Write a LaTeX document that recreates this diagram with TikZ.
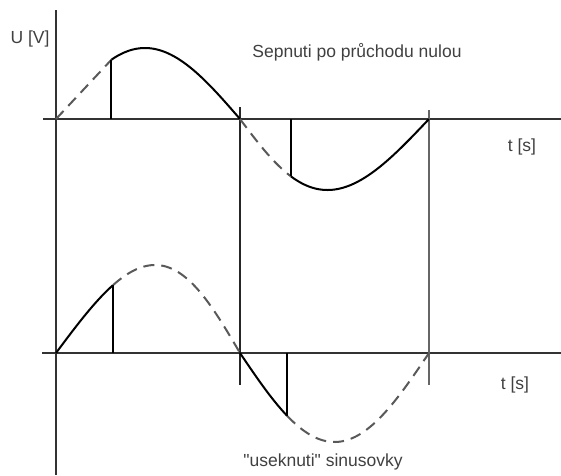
\documentclass[tikz,border=0pt]{standalone}
\usepackage{fontspec}
\setmainfont{Liberation Sans}
\newfontfamily\lblfont{Liberation Sans}
\begin{document}
\begin{tikzpicture}[x=1pt,y=-1pt,
  axisline/.style={line width=2.2pt,color=black!80},
  guide/.style={line width=1.8pt,color=black!85},
  wave/.style={line width=2pt,color=black},
  dwave/.style={line width=2pt,color=black!65,dash pattern=on 11pt off 7pt},
  lbl/.style={font=\lblfont\fontsize{17.5}{20}\selectfont,text=black!75,inner sep=0pt}]
\useasboundingbox (0,0) rectangle (561,475);
% axes
\draw[axisline] (56,10) -- (56,475);
\draw[axisline] (43,119) -- (561,119);
\draw[axisline] (42,353) -- (561,353);
\draw[guide] (240,107) -- (240,385);
\draw[guide,color=black!60] (429,110) -- (429,385);
% ---- top: positive half (dashed then solid)
\coordinate (o1) at (56,119);
\coordinate (c1) at ({56+184*0.315-3*sin(56.7)},{119-71*sin(56.7)});
\coordinate (c1b) at ({56+184*0.315-3*sin(56.7)},119);
\draw[dwave] (o1) -- (c1);
\draw[wave] plot[domain=0.315:1,samples=60,variable=\t] ({56+184*\t-3*sin(180*\t)},{119-71*sin(180*\t)});
\draw[wave] (c1b) -- (c1);
% ---- top: negative half
\draw[dwave] plot[domain=0:0.3,samples=30,variable=\t] ({240+189*\t-7*sin(180*\t)},{119+71*sin(180*\t)});
\draw[wave] plot[domain=0.3:1,samples=60,variable=\t] ({240+189*\t-7*sin(180*\t)},{119+71*sin(180*\t)});
\draw[wave] ({240+189*0.3-7*sin(54)},119) -- ({240+189*0.3-7*sin(54)},{119+71*sin(54)});
% ---- bottom: positive half (solid then dashed)
\draw[wave] plot[domain=0:0.28,samples=30,variable=\t] ({56+184*\t+7*sin(180*\t)},{353-88*sin(180*\t)});
\draw[dwave] plot[domain=0.28:1,samples=60,variable=\t] ({56+184*\t+7*sin(180*\t)},{353-88*sin(180*\t)});
\draw[wave] ({56+184*0.28+7*sin(50.4)},353) -- ({56+184*0.28+7*sin(50.4)},{353-88*sin(50.4)});
% ---- bottom: negative half
\draw[wave] plot[domain=0:0.25,samples=30,variable=\t] ({240+189*\t},{353+89*sin(180*\t)});
\draw[dwave] plot[domain=0.25:1,samples=60,variable=\t] ({240+189*\t},{353+89*sin(180*\t)});
\draw[wave] ({240+189*0.25},353) -- ({240+189*0.25},{353+89*sin(45)});
% labels
\node[lbl] (uv) at (30,39) {U [V]};
\node[lbl] (title) at (357,52) {Sepnuti po průchodu nulou};
\node[lbl] (t1) at (522,147) {t [s]};
\node[lbl] (t2) at (515,385) {t [s]};
\node[lbl] (cut) at (323,462) {"useknuti" sinusovky};
\end{tikzpicture}
\end{document}
